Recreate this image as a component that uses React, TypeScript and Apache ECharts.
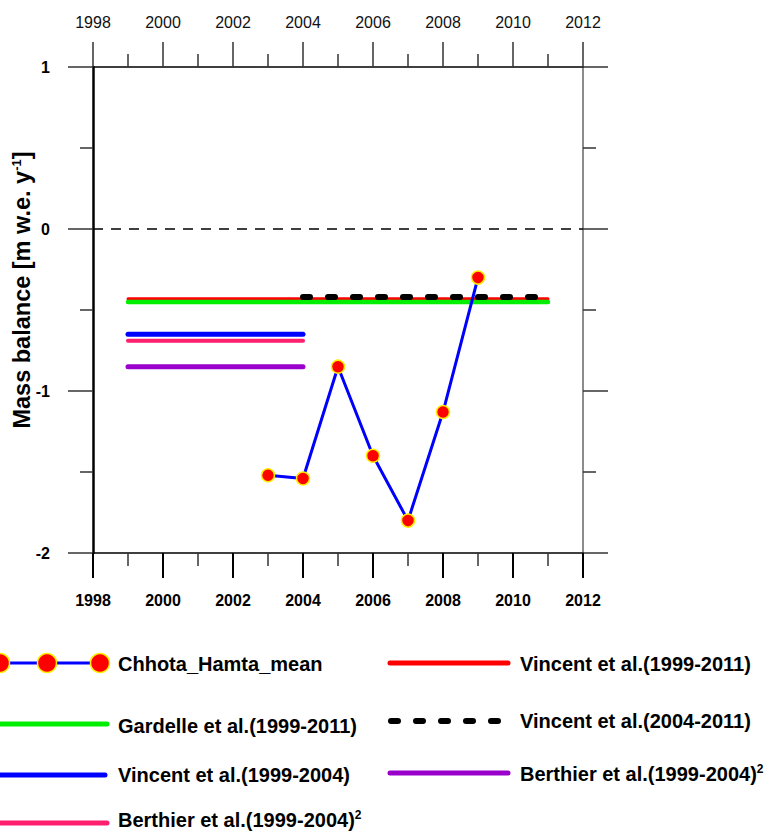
import React, { useEffect, useRef } from "react";
import * as echarts from "echarts";

const years = [2003, 2004, 2005, 2006, 2007, 2008, 2009];
const chhotaValues = [-1.52, -1.54, -0.85, -1.40, -1.80, -1.13, -0.30];

const vincent9911 = { from: 1999, to: 2011, value: -0.43 };
const gardelle9911 = { from: 1999, to: 2011, value: -0.45 };
const vincent0411 = { from: 2004, to: 2011, value: -0.42 };
const vincent9904 = { from: 1999, to: 2004, value: -0.65 };
const berthierPink = { from: 1999, to: 2004, value: -0.69 };
const berthierPurple = { from: 1999, to: 2004, value: -0.85 };

const xMin = 1998;
const xMax = 2012;
const xInterval = 2;
const yMin = -2;
const yMax = 1;

const FONT = "Liberation Sans, Arial, sans-serif";
const LEG = 20;

const seg = (s: { from: number; to: number; value: number }) => [
  [s.from, s.value],
  [s.to, s.value],
];

export default function App() {
  const ref = useRef<HTMLDivElement>(null);
  useEffect(() => {
    if (!ref.current) return;
    const chart = echarts.init(ref.current, null, { renderer: "svg" });
    const fmt = (v: number) => String(v);
    const xCommon = {
      type: "value",
      min: xMin,
      max: xMax,
      interval: xInterval,
      splitLine: { show: false },
      minorTick: { show: true, splitNumber: 2, length: 13, lineStyle: { color: "#333", width: 1.5 } },
      axisTick: { show: true, inside: false, length: 25, lineStyle: { color: "#333", width: 1.5 } },
      axisLine: { show: true, onZero: false, lineStyle: { color: "#000", width: 1.5 } },
    };
    const yCommon = {
      type: "value",
      min: yMin,
      max: yMax,
      interval: 1,
      splitLine: { show: false },
      minorTick: { show: true, splitNumber: 2, length: 13, lineStyle: { color: "#333", width: 1.5 } },
      axisTick: { show: true, inside: false, length: 25, lineStyle: { color: "#333", width: 1.5 } },
    };
    const lineSeries = (name: string, data: number[][], color: string, width: number, extra: any = {}) => ({
      name,
      type: "line",
      data,
      symbol: "none",
      lineStyle: { color, width, cap: "round", ...(extra.lineStyle || {}) },
      z: extra.z ?? 2,
      silent: true,
    });
    const sup = {
      t: { fontFamily: FONT, fontWeight: "bold", fontSize: LEG, fill: "#000" },
      s: { fontFamily: FONT, fontWeight: "bold", fontSize: 12, fill: "#000", verticalAlign: "top", padding: [0, 0, 10, 0] },
    };
    const legText = (x: number, y: number, text: string) => ({
      type: "text", x, y,
      style: { text, fontFamily: FONT, fontWeight: "bold", fontSize: LEG, fill: "#000", verticalAlign: "middle" },
    });
    const option: any = {
      animation: false,
      backgroundColor: "#fff",
      grid: { left: 93, right: 186, top: 67, bottom: 280, containLabel: false },
      xAxis: [
        {
          ...xCommon,
          position: "bottom",
          axisTick: { show: true, inside: false, length: 25, lineStyle: { color: "#000", width: 2 } },
          axisLabel: { fontFamily: FONT, fontWeight: "bold", fontSize: 16, color: "#000", margin: 39, formatter: fmt },
        },
        {
          ...xCommon,
          position: "top",
          axisLabel: { fontFamily: FONT, fontSize: 16, color: "#111", margin: 37, formatter: fmt },
        },
      ],
      yAxis: [
        {
          ...yCommon,
          position: "left",
          axisLine: { show: true, onZero: false, lineStyle: { color: "#000", width: 2.5 } },
          axisLabel: { fontFamily: FONT, fontWeight: "bold", fontSize: 16, color: "#000", margin: 43, formatter: fmt },
        },
        {
          ...yCommon,
          position: "right",
          axisLine: { show: true, onZero: false, lineStyle: { color: "#666", width: 1.5 } },
          axisLabel: { show: false },
        },
      ],
      series: [
        lineSeries("zero", [[xMin, 0], [xMax, 0]], "#000", 1.5, { lineStyle: { type: [10, 8], cap: "butt" } }),
        lineSeries("Gardelle et al.(1999-2011)", seg(gardelle9911), "#00ee00", 4.5, { z: 3 }),
        lineSeries("Vincent et al.(1999-2011)", seg(vincent9911), "#ff0000", 3, { z: 2 }),
        lineSeries("Vincent et al.(2004-2011)", seg(vincent0411), "#000", 6, { z: 4, lineStyle: { type: [7, 18], cap: "round" } }),
        lineSeries("Vincent et al.(1999-2004)", seg(vincent9904), "#0000ff", 5, { z: 3 }),
        lineSeries("Berthier et al.(1999-2004) pink", seg(berthierPink), "#ff1f6f", 4, { z: 3 }),
        lineSeries("Berthier et al.(1999-2004) purple", seg(berthierPurple), "#9900cc", 5, { z: 3 }),
        {
          name: "Chhota_Hamta_mean",
          type: "line",
          data: years.map((y, i) => [y, chhotaValues[i]]),
          symbol: "circle",
          symbolSize: 13,
          lineStyle: { color: "#0000ff", width: 3 },
          itemStyle: { color: "#ff0000", borderColor: "#ffee00", borderWidth: 1.5 },
          z: 6,
          silent: true,
        },
      ],
      graphic: [
        {
          type: "text",
          x: 22,
          y: 290,
          rotation: Math.PI / 2,
          style: {
            text: "{t|Mass balance [m w.e. y}{s|-1}{t|]}",
            align: "center",
            verticalAlign: "middle",
            rich: {
              t: { fontFamily: FONT, fontWeight: "bold", fontSize: 23.5, fill: "#000" },
              s: { fontFamily: FONT, fontWeight: "bold", fontSize: 13, fill: "#000", verticalAlign: "top", padding: [0, 0, 10, 0] },
            },
          },
        },
        // Legend column 1
        { type: "line", shape: { x1: 0, y1: 663, x2: 100, y2: 663 }, style: { stroke: "#0000ff", lineWidth: 3 } },
        { type: "circle", shape: { cx: 0, cy: 663, r: 9.5 }, style: { fill: "#ff0000", stroke: "#ffee00", lineWidth: 1.5 } },
        { type: "circle", shape: { cx: 47, cy: 663, r: 9.5 }, style: { fill: "#ff0000", stroke: "#ffee00", lineWidth: 1.5 } },
        { type: "circle", shape: { cx: 100, cy: 663, r: 9.5 }, style: { fill: "#ff0000", stroke: "#ffee00", lineWidth: 1.5 } },
        legText(118, 664, "Chhota_Hamta_mean"),
        { type: "line", shape: { x1: 0, y1: 724, x2: 107, y2: 724 }, style: { stroke: "#00ee00", lineWidth: 5, lineCap: "round" } },
        legText(118, 726, "Gardelle et al.(1999-2011)"),
        { type: "line", shape: { x1: 0, y1: 775, x2: 105, y2: 775 }, style: { stroke: "#0000ff", lineWidth: 5, lineCap: "round" } },
        legText(118, 775, "Vincent et al.(1999-2004)"),
        { type: "line", shape: { x1: 0, y1: 823, x2: 107, y2: 823 }, style: { stroke: "#ff1f6f", lineWidth: 5, lineCap: "round" } },
        { type: "text", x: 118, y: 820, style: { text: "{t|Berthier et al.(1999-2004)}{s|2}", verticalAlign: "middle", rich: sup } },
        // Legend column 2
        { type: "line", shape: { x1: 390, y1: 663, x2: 508, y2: 663 }, style: { stroke: "#ff0000", lineWidth: 5, lineCap: "round" } },
        legText(520, 664, "Vincent et al.(1999-2011)"),
        { type: "line", shape: { x1: 391, y1: 721, x2: 500, y2: 721 }, style: { stroke: "#000", lineWidth: 6, lineCap: "round", lineDash: [7, 18] } },
        legText(520, 721, "Vincent et al.(2004-2011)"),
        { type: "line", shape: { x1: 390, y1: 773, x2: 508, y2: 773 }, style: { stroke: "#9900cc", lineWidth: 5, lineCap: "round" } },
        { type: "text", x: 520, y: 774, style: { text: "{t|Berthier et al.(1999-2004)}{s|2}", verticalAlign: "middle", rich: sup } },
      ],
    };
    chart.setOption(option);
    return () => chart.dispose();
  }, []);
  return <div ref={ref} style={{ width: 769, height: 833, position: "absolute", left: 0, top: 0 }} />;
}
